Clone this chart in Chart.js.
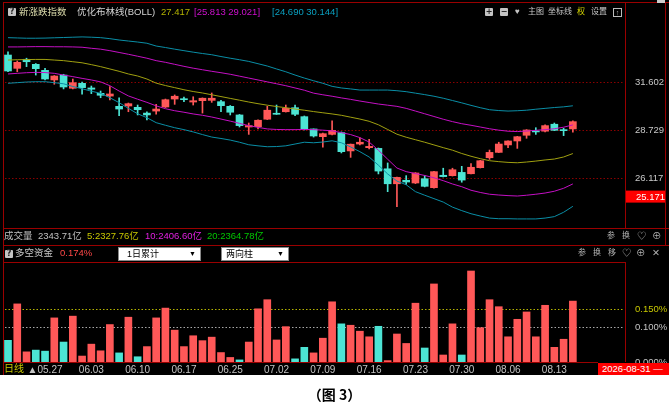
<!DOCTYPE html>
<html><head><meta charset="utf-8">
<script src="https://cdn.jsdelivr.net/npm/chart.js@4.4.1/dist/chart.umd.min.js"></script>
<style>
html,body{margin:0;padding:0;background:#fff;}
#wrap{position:relative;width:669px;height:416px;overflow:hidden;background:#fff;font-family:"Liberation Sans","Noto Sans CJK SC","DejaVu Sans",sans-serif;}
#black{position:absolute;left:0;top:0;width:669px;height:375px;background:#000;}
canvas{position:absolute;left:0;}
.t{position:absolute;white-space:nowrap;font-size:9.5px;line-height:12px;color:#c8c8c8;}
.s{font-size:8px;}
.hl{position:absolute;background:#9a0000;height:1px;}
.vl{position:absolute;background:#9a0000;width:1px;}
.box{position:absolute;width:8px;height:8px;background:#c4c4c4;color:#222;font-size:8px;line-height:8px;text-align:center;font-weight:bold;font-family:"DejaVu Sans",sans-serif;border-radius:1px;}
.dd{position:absolute;top:247px;height:12px;background:#fff;border:1px solid #888;font-size:9px;line-height:12px;color:#000;}
.dd span{position:absolute;right:4px;top:0;font-size:7px;}
</style></head>
<body>
<div id="wrap">
<div id="black"></div>
<canvas id="main" width="669" height="230" style="top:0"></canvas>
<canvas id="flow" width="669" height="113" style="top:262px"></canvas>

<!-- frame lines -->
<div class="hl" style="left:3px;top:2px;width:666px"></div>
<div class="vl" style="left:3px;top:2px;height:373px"></div>
<div class="vl" style="left:625px;top:2px;height:226px"></div>
<div class="vl" style="left:665px;top:2px;height:243px"></div>
<div class="hl" style="left:3px;top:228px;width:666px"></div>
<div class="hl" style="left:3px;top:245px;width:666px"></div>
<div class="hl" style="left:3px;top:262px;width:622px"></div>
<div class="vl" style="left:625px;top:262px;height:100px"></div>
<div class="hl" style="left:3px;top:362px;width:595px"></div>
<div style="position:absolute;left:657px;top:0;width:8px;height:3px;background:#ccc"></div>

<!-- header row -->
<div class="box" style="left:8px;top:8px">?</div>
<div class="t" style="left:19px;top:6px;color:#d8d8a8">新涨跌指数</div>
<div class="t" style="left:77px;top:6px;color:#d4d4d4">优化布林线(BOLL)</div>
<div class="t" style="left:161px;top:6px;color:#b4b400">27.417</div>
<div class="t" style="left:194px;top:6px;color:#d010d0">[25.813 29.021]</div>
<div class="t" style="left:272px;top:6px;color:#0aa0c0">[24.690 30.144]</div>
<div class="box" style="left:485px;top:8px">+</div>
<div class="box" style="left:500px;top:8px">−</div>
<div class="t s" style="left:515px;top:6px;color:#c4c4c4">♥</div>
<div class="t s" style="left:528px;top:6px">主图</div>
<div class="t s" style="left:548px;top:6px">坐标线</div>
<div class="t s" style="left:577px;top:6px;color:#d8d800">权</div>
<div class="t s" style="left:591px;top:6px">设置</div>
<div style="position:absolute;left:613px;top:8px;width:7px;height:7px;border:1px solid #bbb;color:#bbb;font-size:7px;line-height:7px;text-align:center">↑</div>

<!-- volume row -->
<div class="t" style="left:4px;top:230px;color:#c0c0c0">成交量</div>
<div class="t" style="left:38px;top:230px;color:#c0c0c0">2343.71亿</div>
<div class="t" style="left:87px;top:230px;color:#c8c800">5:2327.76亿</div>
<div class="t" style="left:145px;top:230px;color:#e020e0">10:2406.60亿</div>
<div class="t" style="left:207px;top:230px;color:#00c800">20:2364.78亿</div>
<div class="t s" style="left:607px;top:230px;color:#b0b0b0">参</div>
<div class="t s" style="left:622px;top:230px;color:#b0b0b0">换</div>
<div class="t" style="left:637px;top:230px;color:#b0b0b0">♡</div>
<div class="t" style="left:652px;top:230px;color:#b0b0b0">⊕</div>

<!-- flow header row -->
<div class="box" style="left:5px;top:250px">?</div>
<div class="t" style="left:15px;top:247px;color:#c8c8c8">多空资金</div>
<div class="t" style="left:60px;top:247px;color:#ff4848">0.174%</div>
<div class="dd" style="left:118px;width:81px"><b style="font-weight:normal;padding-left:8px">1日累计</b><span>▼</span></div>
<div class="dd" style="left:221px;width:66px"><b style="font-weight:normal;padding-left:4px">两向柱</b><span>▼</span></div>
<div class="t s" style="left:578px;top:247px;color:#b0b0b0">参</div>
<div class="t s" style="left:593px;top:247px;color:#b0b0b0">换</div>
<div class="t s" style="left:608px;top:247px;color:#b0b0b0">移</div>
<div class="t" style="left:622px;top:247px;color:#b0b0b0">♡</div>
<div class="t" style="left:636px;top:247px;color:#b0b0b0">⊕</div>
<div class="t" style="left:652px;top:247px;color:#b0b0b0">✕</div>

<!-- bottom strip -->
<div class="t" style="left:4px;top:363px;color:#c8c800;font-size:10px">日线</div>
<div style="position:absolute;left:598px;top:363px;width:71px;height:12px;background:#ff0000;color:#fff;font-size:9.5px;line-height:12px;padding-left:4px;box-sizing:border-box;white-space:nowrap">2026-08-31 —</div>

<div style="position:absolute;left:0;width:669px;top:385px;text-align:center;font-family:'Noto Sans CJK SC',sans-serif;font-weight:bold;font-size:14px;line-height:18px;color:#000">（图 3）</div>
</div>

<script>
// ---------- data ----------
const dates = ['05.21','05.22','05.25','05.26','05.27','05.28','05.29','06.01','06.02','06.03',
 '06.04','06.05','06.08','06.09','06.10','06.11','06.12','06.15','06.16','06.17',
 '06.18','06.22','06.23','06.24','06.25','06.26','06.29','06.30','07.01','07.02',
 '07.03','07.06','07.07','07.08','07.09','07.10','07.13','07.14','07.15','07.16',
 '07.17','07.20','07.21','07.22','07.23','07.24','07.27','07.28','07.29','07.30',
 '07.31','08.03','08.04','08.05','08.06','08.07','08.10','08.11','08.12','08.13',
 '08.14','08.17'];
const dateTickIndex = [4,9,14,19,24,29,34,39,44,49,54,59];

const openP = [33.34,32.47,33.06,32.73,32.34,31.73,32.04,31.21,31.52,31.23,
 30.90,30.73,30.11,30.13,30.05,29.71,29.83,30.07,30.55,30.57,
 30.37,30.45,30.47,30.39,30.11,29.60,28.90,28.92,29.35,29.70,
 29.79,30.03,29.50,28.79,28.35,28.48,28.58,27.56,27.94,27.74,
 27.70,26.60,25.82,26.00,25.86,26.08,25.62,26.26,26.24,26.41,
 26.34,26.66,27.19,27.48,27.89,28.11,28.43,28.67,28.66,29.06,
 28.75,28.79];
const closeP = [32.30,32.86,32.90,32.45,31.79,31.98,31.29,31.56,31.25,31.15,
 30.78,30.86,29.95,30.27,29.91,29.60,29.95,30.51,30.72,30.51,
 30.45,30.60,30.60,30.15,29.76,28.98,28.98,29.29,29.88,29.64,
 29.99,29.64,28.79,28.39,28.52,28.71,27.52,27.93,28.04,27.81,
 26.48,25.82,26.15,25.91,26.38,25.69,26.45,26.19,26.55,26.01,
 26.68,27.03,27.48,27.94,28.11,28.35,28.73,28.62,28.98,28.71,
 28.69,29.21];
const highP = [33.56,32.95,33.13,32.78,32.47,32.01,32.09,31.79,31.60,31.35,
 31.04,31.31,30.63,30.31,30.19,29.79,30.23,30.55,30.80,30.67,
 30.69,30.62,30.92,30.47,30.16,29.63,29.13,29.31,30.11,30.19,
 30.19,30.19,29.54,28.79,28.56,29.25,28.62,27.94,28.29,28.20,
 27.72,26.91,26.17,26.24,26.40,26.24,26.47,26.63,26.63,26.73,
 26.87,27.05,27.61,28.04,28.12,28.37,28.75,28.86,29.02,29.13,
 28.83,29.25];
const lowP = [32.25,32.25,32.58,32.04,31.73,31.46,31.17,31.17,30.84,30.88,
 30.63,30.49,29.56,29.79,29.60,29.31,29.64,30.04,30.23,30.39,
 30.19,29.71,30.35,29.79,29.60,28.90,28.48,28.79,29.33,29.63,
 29.77,29.56,28.73,28.33,27.76,28.45,27.45,27.21,27.89,27.67,
 26.33,25.42,24.67,25.79,25.83,25.66,25.60,26.17,26.22,25.90,
 26.33,26.64,27.10,27.47,27.74,27.70,28.26,28.48,28.62,28.69,
 28.41,28.60];

const bollOuterUp = [34.51,34.49,34.47,34.47,34.48,34.50,34.52,34.54,34.56,34.54,
 34.51,34.44,34.35,34.28,34.21,34.13,33.94,33.84,33.73,33.63,
 33.53,33.44,33.36,33.24,33.13,33.03,32.92,32.77,32.62,32.43,
 32.25,32.04,31.85,31.68,31.52,31.33,31.23,31.17,31.10,31.10,
 31.10,31.10,31.06,31.00,30.91,30.82,30.72,30.60,30.46,30.32,
 30.17,30.03,29.91,29.86,29.83,29.85,29.88,29.94,29.99,30.04,
 30.08,30.144];
const bollInnerUp = [33.88,33.88,33.89,33.90,33.90,33.89,33.89,33.88,33.86,33.79,
 33.73,33.63,33.51,33.39,33.26,33.13,32.97,32.86,32.73,32.60,
 32.48,32.38,32.28,32.19,32.09,31.97,31.85,31.73,31.61,31.49,
 31.37,31.23,31.09,30.91,30.81,30.72,30.62,30.53,30.43,30.34,
 30.25,30.18,30.11,29.99,29.83,29.67,29.51,29.35,29.21,29.09,
 29.00,28.90,28.80,28.72,28.66,28.64,28.67,28.71,28.75,28.80,
 28.89,29.021];
const bollMid = [33.01,33.03,33.04,33.05,33.05,33.01,32.97,32.90,32.83,32.71,
 32.58,32.43,32.28,32.11,31.98,31.79,31.53,31.38,31.25,31.12,
 31.01,30.92,30.81,30.70,30.59,30.48,30.37,30.27,30.18,30.10,
 30.03,29.95,29.88,29.80,29.73,29.66,29.58,29.47,29.36,29.23,
 29.03,28.76,28.49,28.32,28.18,28.04,27.89,27.74,27.60,27.42,
 27.27,27.14,27.03,26.98,26.94,26.92,26.96,27.01,27.07,27.12,
 27.23,27.417];
const bollInnerLow = [32.11,32.15,32.19,32.21,32.20,32.15,32.04,31.94,31.83,31.73,
 31.61,31.37,31.04,30.74,30.54,30.35,30.14,29.97,29.85,29.76,
 29.66,29.58,29.48,29.36,29.24,29.11,28.98,28.88,28.79,28.76,
 28.75,28.75,28.76,28.75,28.72,28.68,28.58,28.47,28.30,28.05,
 27.60,27.11,26.64,26.45,26.35,26.25,26.13,25.98,25.81,25.67,
 25.49,25.38,25.29,25.25,25.22,25.20,25.24,25.29,25.35,25.44,
 25.59,25.813];
const bollOuterLow = [31.52,31.56,31.60,31.62,31.62,31.56,31.49,31.32,31.18,31.03,
 30.90,30.63,30.33,29.99,29.67,29.44,29.15,29.00,28.86,28.75,
 28.62,28.47,28.33,28.25,28.16,28.04,27.90,27.84,27.79,27.80,
 27.84,27.94,28.04,28.01,28.05,28.12,28.01,27.78,27.52,27.23,
 26.79,26.33,25.96,25.77,25.42,25.24,25.07,24.90,24.65,24.48,
 24.33,24.22,24.12,24.09,24.09,24.08,24.08,24.08,24.12,24.19,
 24.40,24.69];

// 多空资金 (%), negative = cyan
const flow = [-0.062,0.166,0.029,-0.034,-0.031,0.126,-0.057,0.131,0.017,0.051,
 0.032,0.107,-0.026,0.128,-0.015,0.044,0.126,0.154,0.091,0.044,
 0.075,0.061,0.071,0.027,0.013,-0.006,0.057,0.152,0.178,0.063,
 0.101,-0.009,-0.042,0.026,0.068,0.172,-0.109,0.105,0.088,0.072,
 -0.102,0.004,0.080,0.053,0.168,-0.040,0.223,0.020,0.109,-0.020,
 0.260,0.098,0.178,0.158,0.072,0.122,0.143,0.072,0.162,0.042,
 0.065,0.174];

const priceTicks = [31.602, 28.729, 26.117];
const markPrice = 25.171;
const flowTicks = [0, 0.1, 0.15];

// ---------- styles ----------
const UP = '#ff5858', DOWN = '#4ce4d4';
const X_MIN = -0.54, X_MAX = 66.63;
const FONT = '"Liberation Sans","DejaVu Sans",sans-serif';
const noPad = s => { s.paddingTop = 0; s.paddingBottom = 0; s.paddingLeft = 0; s.paddingRight = 0; };

const dotGrid = {
  id: 'dotGrid',
  beforeDatasetsDraw(chart, args, opts) {
    const { ctx, chartArea: a } = chart;
    const ys = chart.scales.y;
    ctx.save();
    ctx.lineWidth = 1;
    ctx.setLineDash([1.5, 2]);
    (opts.lines || []).forEach(l => {
      const py = Math.round(ys.getPixelForValue(l.value)) + 0.5;
      ctx.strokeStyle = l.color;
      ctx.beginPath(); ctx.moveTo(a.left + 2, py); ctx.lineTo(a.right - 2, py); ctx.stroke();
    });
    ctx.restore();
  }
};
const priceMark = {
  id: 'priceMark',
  afterDraw(chart, args, opts) {
    if (opts.value == null) return;
    const { ctx } = chart; const ys = chart.scales.y;
    const py = ys.getPixelForValue(opts.value);
    ctx.save();
    ctx.fillStyle = '#ff0000';
    ctx.fillRect(ys.left + 1, py - 6, ys.width - 4, 12);
    ctx.fillStyle = '#ffffff';
    ctx.font = '9.5px ' + FONT;
    ctx.textAlign = 'left'; ctx.textBaseline = 'middle';
    ctx.fillText(opts.value.toFixed(3), ys.left + 11, py + 0.5);
    ctx.restore();
  }
};

const idx = dates.map((d, i) => i);
const candleColor = idx.map(i => closeP[i] >= openP[i] ? UP : DOWN);
const line = (arr, color) => ({
  type: 'line', data: arr.map((v, i) => ({ x: i, y: v })), borderColor: color,
  borderWidth: 1, pointRadius: 0, tension: 0, order: 0, fill: false
});

new Chart(document.getElementById('main'), {
  type: 'bar',
  data: {
    datasets: [
      { data: idx.map(i => ({ x: i, y: [lowP[i], highP[i]] })), backgroundColor: candleColor,
        barThickness: 1, grouped: false, order: 2, borderWidth: 0 },
      { data: idx.map(i => ({ x: i, y: [Math.min(openP[i], closeP[i]), Math.max(openP[i], closeP[i])] })),
        backgroundColor: candleColor, barThickness: 7, grouped: false, order: 1, borderWidth: 0, minBarLength: 1 },
      line(bollOuterUp, '#0a8ea6'),
      line(bollInnerUp, '#c410c4'),
      line(bollMid, '#a0a010'),
      line(bollInnerLow, '#c410c4'),
      line(bollOuterLow, '#0a8ea6')
    ]
  },
  options: {
    responsive: false, animation: false, devicePixelRatio: 1,
    layout: { padding: { left: 3, top: 15, right: 0, bottom: 2 } },
    plugins: { legend: { display: false }, tooltip: { enabled: false },
      dotGrid: { lines: priceTicks.map(v => ({ value: v, color: '#8a0000' })) },
      priceMark: { value: markPrice } },
    scales: {
      x: { type: 'linear', min: X_MIN, max: X_MAX, offset: false, bounds: 'data', display: false },
      y: { type: 'logarithmic', position: 'right', min: 23.650, max: 36.097, bounds: 'data',
        afterFit: s => { s.width = 44; noPad(s); },
        afterBuildTicks: s => { s.ticks = priceTicks.map(v => ({ value: v })); },
        grid: { display: false, drawTicks: false }, border: { display: false },
        ticks: { padding: 10, color: '#c8c8c8', font: { size: 9.5, family: FONT },
          callback: v => Number(v).toFixed(3) } }
    }
  },
  plugins: [dotGrid, priceMark]
});

new Chart(document.getElementById('flow'), {
  type: 'bar',
  data: {
    datasets: [{
      data: idx.map(i => ({ x: i, y: Math.abs(flow[i]) })),
      backgroundColor: flow.map(v => v >= 0 ? UP : DOWN),
      barThickness: 7, grouped: false, borderWidth: 0
    }]
  },
  options: {
    responsive: false, animation: false, devicePixelRatio: 1,
    layout: { padding: { left: 3, top: 0, right: 0, bottom: 0 } },
    plugins: { legend: { display: false }, tooltip: { enabled: false },
      dotGrid: { lines: [{ value: 0.15, color: '#b4b400' }, { value: 0.1, color: '#a8a8a8' }] } },
    scales: {
      x: { type: 'linear', min: X_MIN, max: X_MAX, offset: false, bounds: 'data',
        afterFit: s => { s.height = 13; noPad(s); },
        afterBuildTicks: s => { s.ticks = dateTickIndex.map(v => ({ value: v })); },
        grid: { display: false, drawTicks: false }, border: { display: false },
        ticks: { padding: 2, autoSkip: false, maxRotation: 0, color: '#c4c4c4',
          font: { size: 10, family: FONT },
          callback: (v, k) => (k === 0 ? '▲' : '') + dates[v] } },
      y: { type: 'linear', position: 'right', min: 0, max: 0.2857, bounds: 'data',
        afterFit: s => { s.width = 44; noPad(s); },
        afterBuildTicks: s => { s.ticks = flowTicks.map(v => ({ value: v })); },
        grid: { display: false, drawTicks: false }, border: { display: false },
        ticks: { padding: 10, font: { size: 9.5, family: FONT },
          color: c => (c.tick && c.tick.value === 0.15) ? '#c8c800' : '#c4c4c4',
          callback: v => Number(v).toFixed(3) + '%' } }
    }
  },
  plugins: [dotGrid]
});
</script>
</body></html>
